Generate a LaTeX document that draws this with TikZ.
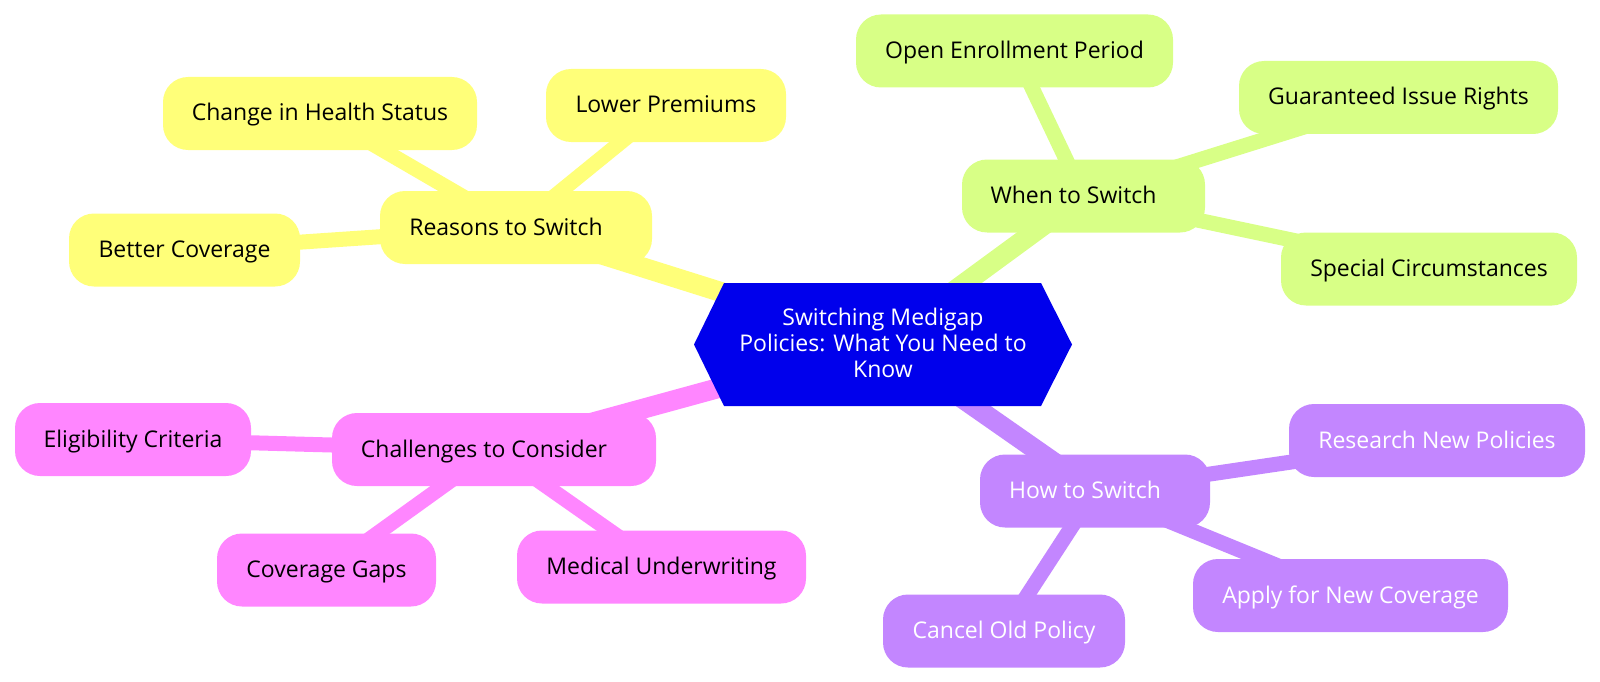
\documentclass[tikz,border=0pt]{standalone}
\usepackage{fontspec}
\setmainfont{Open Sans}
\newcommand\mmfont{\fontsize{23}{26}\selectfont}
\definecolor{rootblue}{RGB}{0,0,236}
\definecolor{cyel}{RGB}{255,255,121}
\definecolor{cgrn}{RGB}{216,255,134}
\definecolor{cpur}{RGB}{195,134,255}
\definecolor{cpnk}{RGB}{255,134,255}
\pgfdeclarelayer{bg}
\pgfsetlayers{bg,main}
\tikzset{
  mmbox/.style={rounded corners=25pt, inner xsep=0pt, inner ysep=0pt,
    minimum height=73pt, text height=19pt, text depth=4pt, font=\mmfont},
  yel/.style={mmbox, fill=cyel, text=black},
  grn/.style={mmbox, fill=cgrn, text=black},
  pur/.style={mmbox, fill=cpur, text=white},
  pnk/.style={mmbox, fill=cpnk, text=black},
  mainedge/.style={line width=20pt},
  leafedge/.style={line width=15pt},
}
\begin{document}
\begin{tikzpicture}[x=1pt,y=-1pt]
\useasboundingbox (0,0) rectangle (1600,682);
% root
\fill[rootblue] (694,344.5) -- (724,283) -- (1041,283) -- (1072,344.5) -- (1041,406) -- (724,406) -- cycle;
\node[font=\mmfont, text=white, align=center, inner sep=0pt] (root) at (883,343)
  {Switching Medigap\\Policies: What You Need to\\Know};
% yellow
\node[yel, minimum width=272pt] (reasons) at (516,227.5) {Reasons to Switch\kern20pt};
\node[yel, minimum width=314pt] (health) at (320,113.5) {Change in Health Status};
\node[yel, minimum width=240pt] (lower) at (666,105.5) {Lower Premiums};
\node[yel, minimum width=231pt] (better) at (184.5,250) {Better Coverage};
% green
\node[grn, minimum width=243pt] (when) at (1083.5,196) {When to Switch\kern20pt};
\node[grn, minimum width=317pt] (open) at (1014.5,51) {Open Enrollment Period};
\node[grn, minimum width=319pt] (guar) at (1398.5,97.5) {Guaranteed Issue Rights};
\node[grn, minimum width=296pt] (special) at (1429,269) {Special Circumstances};
% purple
\node[pur, minimum width=230pt] (how) at (1095,491) {How to Switch\kern20pt};
\node[pur, minimum width=296pt] (research) at (1437,440.5) {Research New Policies};
\node[pur, minimum width=315pt] (apply) at (1350.5,595.5) {Apply for New Coverage};
\node[pur, minimum width=242pt] (cancel) at (1004,631) {Cancel Old Policy};
% pink
\node[pnk, minimum width=324pt] (chall) at (494,449.5) {Challenges to Consider\kern20pt};
\node[pnk, minimum width=236pt] (elig) at (133,439.5) {Eligibility Criteria};
\node[pnk, minimum width=219pt] (gaps) at (326.5,570) {Coverage Gaps};
\node[pnk, minimum width=289pt] (medical) at (661.5,567) {Medical Underwriting};
% edges
\begin{pgfonlayer}{bg}
\draw[mainedge, cyel] (root.center) -- (reasons.center);
\draw[mainedge, cgrn] (root.center) -- (when.center);
\draw[mainedge, cpur] (root.center) -- (how.center);
\draw[mainedge, cpnk] (root.center) -- (chall.center);
\draw[leafedge, cyel] (reasons.center) -- (health.center);
\draw[leafedge, cyel] (reasons.center) -- (lower.center);
\draw[leafedge, cyel] (reasons.center) -- (better.center);
\draw[leafedge, cgrn] (when.center) -- (open.center);
\draw[leafedge, cgrn] (when.center) -- (guar.center);
\draw[leafedge, cgrn] (when.center) -- (special.center);
\draw[leafedge, cpur] (how.center) -- (research.center);
\draw[leafedge, cpur] (how.center) -- (apply.center);
\draw[leafedge, cpur] (how.center) -- (cancel.center);
\draw[leafedge, cpnk] (chall.center) -- (elig.center);
\draw[leafedge, cpnk] (chall.center) -- (gaps.center);
\draw[leafedge, cpnk] (chall.center) -- (medical.center);
\end{pgfonlayer}
\end{tikzpicture}
\end{document}
